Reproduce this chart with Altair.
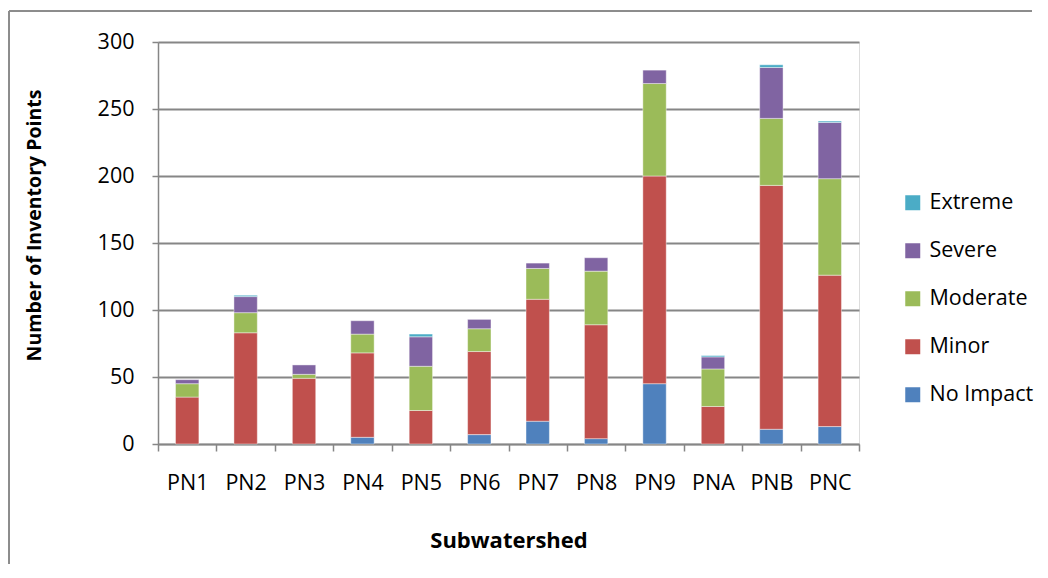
import altair as alt
import pandas as pd

categories = ["PN1", "PN2", "PN3", "PN4", "PN5", "PN6", "PN7", "PN8", "PN9", "PNA", "PNB", "PNC"]
no_impact = [0, 0, 0, 5, 0, 7, 17, 4, 45, 0, 11, 13]
minor = [35, 83, 49, 63, 25, 62, 91, 85, 155, 28, 182, 113]
moderate = [10, 15, 3, 14, 33, 17, 23, 40, 69, 28, 50, 72]
severe = [3, 12, 7, 10, 22, 7, 4, 10, 10, 9, 38, 42]
extreme = [0, 1, 0, 0, 2, 0, 0, 0, 0, 1, 2, 1]

series_names = ["No Impact", "Minor", "Moderate", "Severe", "Extreme"]
series_values = [no_impact, minor, moderate, severe, extreme]
series_colors = ["#4F81BD", "#C0504D", "#9BBB59", "#8064A2", "#4BACC6"]

rows = []
for rank, (name, vals) in enumerate(zip(series_names, series_values)):
    for cat, v in zip(categories, vals):
        if v > 0:
            rows.append({"Subwatershed": cat, "Impact": name, "Count": v, "rank": rank})
df = pd.DataFrame(rows)

FONT = "Open Sans"
W, H = 701, 402

bars = alt.Chart(df).mark_bar(
    width=alt.RelativeBandSize(0.4), stroke="white", strokeWidth=0.6, strokeOpacity=0.7
).encode(
    x=alt.X("Subwatershed:N", sort=categories,
            scale=alt.Scale(paddingInner=0, paddingOuter=0),
            axis=alt.Axis(title="Subwatershed", tickBand="extent", labelAngle=0,
                          labelFontSize=21.5, labelFont=FONT, labelColor="black",
                          labelPadding=21, tickSize=7, tickColor="#868686", tickWidth=1.5,
                          domainColor="#868686", domainWidth=1.5, grid=False,
                          titleFontSize=22, titleFont=FONT, titleFontWeight="bold",
                          titleColor="black", titleX=W / 2, titleY=96,
                          titleAlign="center", titleBaseline="middle")),
    y=alt.Y("sum(Count):Q", stack="zero",
            scale=alt.Scale(domain=[0, 300], nice=False),
            axis=alt.Axis(title="Number of Inventory Points", values=[0, 50, 100, 150, 200, 250, 300],
                          labelFontSize=21.5, labelFont=FONT, labelColor="black",
                          labelPadding=18, tickSize=6, tickColor="#868686", tickWidth=1.5,
                          domainColor="#868686", domainWidth=1.5,
                          grid=True, gridColor="#868686", gridWidth=1.8,
                          titleFontSize=19.5, titleFont=FONT, titleFontWeight="bold",
                          titleColor="black", titleX=-124, titleY=183, titleAngle=270,
                          titleAlign="center", titleBaseline="middle")),
    color=alt.Color("Impact:N",
                    scale=alt.Scale(domain=list(reversed(series_names)),
                                    range=list(reversed(series_colors))),
                    legend=alt.Legend(title=None, orient="none", legendX=744, legendY=150,
                                      symbolType="square", symbolSize=225, symbolStrokeWidth=0,
                                      labelFontSize=21.5, labelFont=FONT, labelColor="black",
                                      labelOffset=6, rowPadding=25, padding=0)),
    order=alt.Order("rank:Q", sort="ascending"),
)

left_border = alt.Chart(df).mark_rule(color="#8C8C8C", strokeWidth=1).encode(
    x=alt.value(-149), y=alt.value(-31), y2=alt.value(522)
)
top_border = alt.Chart(df).mark_rule(color="#8C8C8C", strokeWidth=1).encode(
    x=alt.value(-149), x2=alt.value(874), y=alt.value(-31)
)

chart = alt.layer(bars, left_border, top_border).properties(
    width=W, height=H, padding={"left": 0, "top": 2, "right": 0, "bottom": 0}
).configure_view(stroke=None).configure(background="white")

chart.save("out.html", embed_options={"renderer": "svg", "actions": False})
